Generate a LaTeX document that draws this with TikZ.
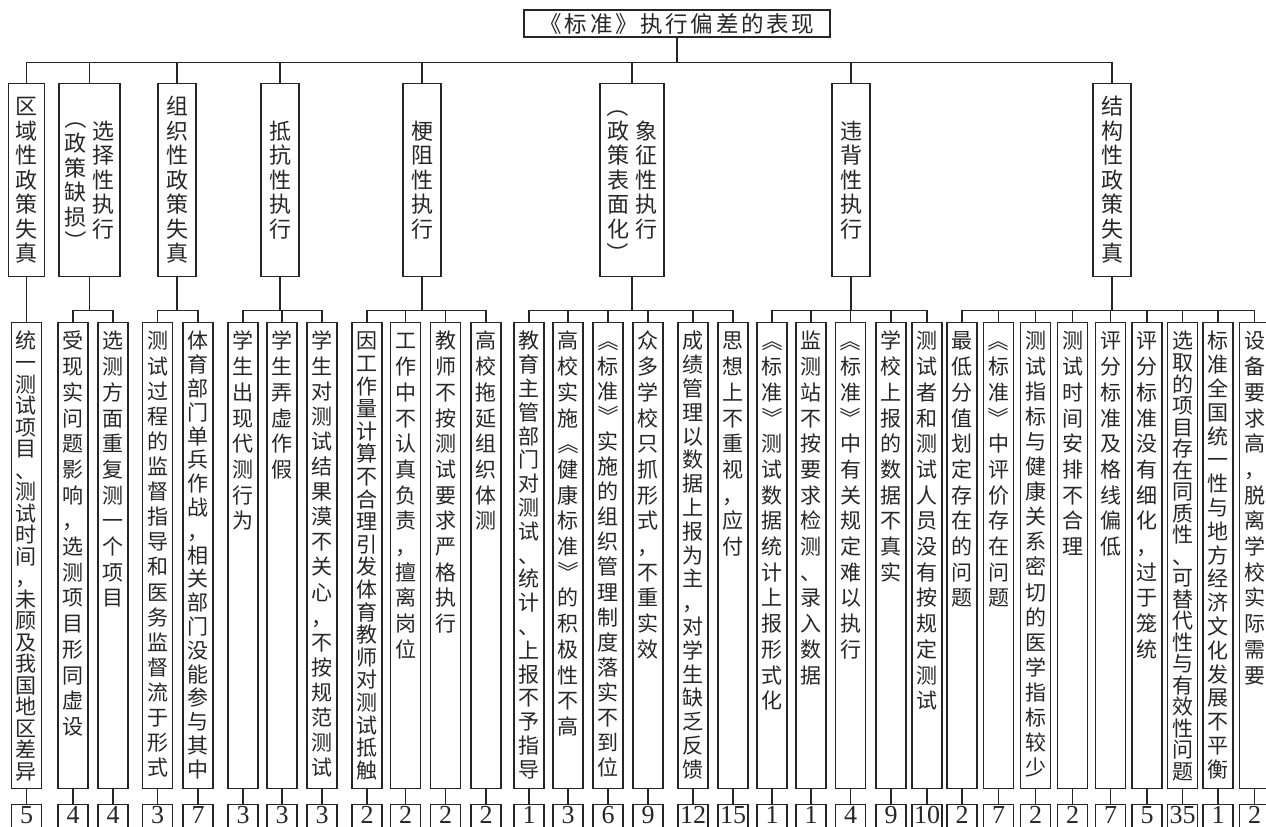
\documentclass[tikz,border=0pt]{standalone}
\usepackage{fontspec}
\usepackage{graphicx}
\setmainfont{Liberation Serif}
\newfontfamily\cjk{Noto Sans CJK SC}
\newfontfamily\cjktitle{Noto Sans CJK SC}[LetterSpace=12]
\usepackage{tikz}

% vertical columns of characters
\newcount\vcnt
\newdimen\vpitch
\newdimen\vspan
\newdimen\vmax
\def\vend{VEND}
\def\vcount#1{\ifx#1\vend\else\advance\vcnt by 1\relax\expandafter\vcount\fi}
\def\vput#1{\ifx#1\vend\else\hbox to 1em{\vrule height .88em depth .12em width 0pt\hss#1\hss}\expandafter\vput\fi}
\newcommand\vcol[1]{%
  \vcnt=0 \vcount#1\vend
  \vpitch=\vspan \divide\vpitch by \vcnt
  \ifdim\vpitch>\vmax \vpitch=\vmax\fi
  \vtop{\baselineskip=\vpitch\lineskiplimit=-\maxdimen\lineskip=0pt\vput#1\vend}}
% turned brackets for vertical text
\newcommand\vturn[1]{\rotatebox[origin=c]{-90}{\vrule height .88em depth .12em width 0pt#1}}
\newcommand\vopen{\vturn{《}}
\newcommand\vclose{\vturn{》}}
\newcommand\vparo{\vturn{（}}
\newcommand\vparc{\vturn{）}}

\tikzset{
  titlebox/.style={draw, inner sep=0pt, minimum width=306pt, minimum height=27pt,
    font=\cjktitle\fontsize{22.5}{24}\selectfont},
  kindbox/.style={draw, inner sep=0pt, minimum width=38pt, minimum height=193pt, anchor=north,
    font=\cjk\fontsize{22}{24}\selectfont, execute at begin node={\vspan=1000pt\vmax=24.5pt}},
  leafbox/.style={draw, inner sep=0pt, minimum width=30pt, text height=26.4pt, text depth=439.6pt,
    anchor=north, font=\cjk\fontsize{21}{25}\selectfont, execute at begin node={\vspan=452pt\vmax=25.7pt}},
  tallybox/.style={draw, inner sep=0pt, minimum width=30pt, text height=19pt, text depth=30pt,
    anchor=north, font=\fontsize{26}{26}\selectfont}
}

\begin{document}
\begin{tikzpicture}[x=1pt, y=-1pt, line width=1.1pt, color=black!85]
            \useasboundingbox (0,0) rectangle (1266,827);
            \clip (0,0) rectangle (1266,827);

            % Nodes
            \node[titlebox] (top) at (677,23.5) {《标准》执行偏差的表现};

            \node[kindbox, minimum width=36pt] (n1) at (26.5,83) {\vcol{区域性政策失真}};
            \node[kindbox, minimum width=61pt] (n2) at (89.5,83) {$\vcenter{\vcol{{\vparo}政策缺损{\vparc}}}\hskip6pt\vcenter{\vcol{选择性执行}}$};
            \node[kindbox] (n3) at (177,83) {\vcol{组织性政策失真}};
            \node[kindbox] (n4) at (280,83) {\vcol{抵抗性执行}};
            \node[kindbox] (n5) at (422,83) {\vcol{梗阻性执行}};
            \node[kindbox, minimum width=64pt] (n6) at (632,83) {$\vcenter{\vcol{{\vparo}政策表面化{\vparc}}}\hskip6pt\vcenter{\vcol{象征性执行}}$};
            \node[kindbox] (n7) at (851,83) {\vcol{违背性执行}};
            \node[kindbox] (n8) at (1112,83) {\vcol{结构性政策失真}};

            \node[leafbox] (m1) at (26.5,322) {\vcol{统一测试项目、测试时间，未顾及我国地区差异}};
            \node[leafbox] (m2) at (73,322) {\vcol{受现实问题影响，选测项目形同虚设}};
            \node[leafbox] (m3) at (113,322) {\vcol{选测方面重复测一个项目}};
            \node[leafbox] (m4) at (157.5,322) {\vcol{测试过程的监督指导和医务监督流于形式}};
            \node[leafbox] (m5) at (198,322) {\vcol{体育部门单兵作战，相关部门没能参与其中}};
            \node[leafbox] (m6) at (243,322) {\vcol{学生出现代测行为}};
            \node[leafbox] (m7) at (282,322) {\vcol{学生弄虚作假}};
            \node[leafbox] (m8) at (322,322) {\vcol{学生对测试结果漠不关心，不按规范测试}};
            \node[leafbox] (m9) at (367,322) {\vcol{因工作量计算不合理引发体育教师对测试抵触}};
            \node[leafbox] (m10) at (405.5,322) {\vcol{工作中不认真负责，擅离岗位}};
            \node[leafbox] (m11) at (445.5,322) {\vcol{教师不按测试要求严格执行}};
            \node[leafbox] (m12) at (486,322) {\vcol{高校拖延组织体测}};
            \node[leafbox] (m13) at (529,322) {\vcol{教育主管部门对测试、统计、上报不予指导}};
            \node[leafbox] (m14) at (568,322) {\vcol{高校实施{\vopen}健康标准{\vclose}的积极性不高}};
            \node[leafbox] (m15) at (608,322) {\vcol{{\vopen}标准{\vclose}实施的组织管理制度落实不到位}};
            \node[leafbox] (m16) at (648,322) {\vcol{众多学校只抓形式，不重实效}};
            \node[leafbox] (m17) at (693,322) {\vcol{成绩管理以数据上报为主，对学生缺乏反馈}};
            \node[leafbox] (m18) at (733,322) {\vcol{思想上不重视，应付}};
            \node[leafbox] (m19) at (772,322) {\vcol{{\vopen}标准{\vclose}测试数据统计上报形式化}};
            \node[leafbox] (m20) at (811,322) {\vcol{监测站不按要求检测、录入数据}};
            \node[leafbox] (m21) at (850.5,322) {\vcol{{\vopen}标准{\vclose}中有关规定难以执行}};
            \node[leafbox] (m22) at (891,322) {\vcol{学校上报的数据不真实}};
            \node[leafbox] (m23) at (927,322) {\vcol{测试者和测试人员没有按规定测试}};
            \node[leafbox] (m24) at (962,322) {\vcol{最低分值划定存在的问题}};
            \node[leafbox] (m25) at (998.5,322) {\vcol{{\vopen}标准{\vclose}中评价存在问题}};
            \node[leafbox] (m26) at (1035.5,322) {\vcol{测试指标与健康关系密切的医学指标较少}};
            \node[leafbox] (m27) at (1072.5,322) {\vcol{测试时间安排不合理}};
            \node[leafbox] (m28) at (1110.5,322) {\vcol{评分标准及格线偏低}};
            \node[leafbox] (m29) at (1147,322) {\vcol{评分标准没有细化，过于笼统}};
            \node[leafbox] (m30) at (1182.5,322) {\vcol{选取的项目存在同质性、可替代性与有效性问题}};
            \node[leafbox] (m31) at (1218,322) {\vcol{标准全国统一性与地方经济文化发展不平衡}};
            \node[leafbox] (m32) at (1254.5,322) {\vcol{设备要求高，脱离学校实际需要}};

            \node[tallybox] (v1) at (26.5,804) {5};
            \node[tallybox] (v2) at (73,804) {4};
            \node[tallybox] (v3) at (113,804) {4};
            \node[tallybox] (v4) at (157.5,804) {3};
            \node[tallybox] (v5) at (198,804) {7};
            \node[tallybox] (v6) at (243,804) {3};
            \node[tallybox] (v7) at (282,804) {3};
            \node[tallybox] (v8) at (322,804) {3};
            \node[tallybox] (v9) at (367,804) {2};
            \node[tallybox] (v10) at (405.5,804) {2};
            \node[tallybox] (v11) at (445.5,804) {2};
            \node[tallybox] (v12) at (486,804) {2};
            \node[tallybox] (v13) at (529,804) {1};
            \node[tallybox] (v14) at (568,804) {3};
            \node[tallybox] (v15) at (608,804) {6};
            \node[tallybox] (v16) at (648,804) {9};
            \node[tallybox] (v17) at (693,804) {12};
            \node[tallybox] (v18) at (733,804) {15};
            \node[tallybox] (v19) at (772,804) {1};
            \node[tallybox] (v20) at (811,804) {1};
            \node[tallybox] (v21) at (850.5,804) {4};
            \node[tallybox] (v22) at (891,804) {9};
            \node[tallybox] (v23) at (927,804) {10};
            \node[tallybox] (v24) at (962,804) {2};
            \node[tallybox] (v25) at (998.5,804) {7};
            \node[tallybox] (v26) at (1035.5,804) {2};
            \node[tallybox] (v27) at (1072.5,804) {2};
            \node[tallybox] (v28) at (1110.5,804) {7};
            \node[tallybox] (v29) at (1147,804) {5};
            \node[tallybox] (v30) at (1182.5,804) {35};
            \node[tallybox] (v31) at (1218,804) {1};
            \node[tallybox] (v32) at (1254.5,804) {2};

            % Edges
            \draw (top.south) -- ++(0,25) -| (n1.north);
            \draw (top.south) -- ++(0,25) -| (n2.north);
            \draw (top.south) -- ++(0,25) -| (n3.north);
            \draw (top.south) -- ++(0,25) -| (n4.north);
            \draw (top.south) -- ++(0,25) -| (n5.north);
            \draw (top.south) -- ++(0,25) -| (n6.north);
            \draw (top.south) -- ++(0,25) -| (n7.north);
            \draw (top.south) -- ++(0,25) -| (n8.north);

            \draw (n1.south) -- (m1.north);
            \draw (n2.south) -- ++(0,33) -| (m2.north);
            \draw (n2.south) -- ++(0,33) -| (m3.north);
            \draw (n3.south) -- ++(0,33) -| (m4.north);
            \draw (n3.south) -- ++(0,33) -| (m5.north);
            \draw (n4.south) -- ++(0,33) -| (m6.north);
            \draw (n4.south) -- ++(0,33) -| (m7.north);
            \draw (n4.south) -- ++(0,33) -| (m8.north);
            \draw (n5.south) -- ++(0,33) -| (m9.north);
            \draw (n5.south) -- ++(0,33) -| (m10.north);
            \draw (n5.south) -- ++(0,33) -| (m11.north);
            \draw (n5.south) -- ++(0,33) -| (m12.north);
            \draw (n6.south) -- ++(0,33) -| (m13.north);
            \draw (n6.south) -- ++(0,33) -| (m14.north);
            \draw (n6.south) -- ++(0,33) -| (m15.north);
            \draw (n6.south) -- ++(0,33) -| (m16.north);
            \draw (n6.south) -- ++(0,33) -| (m17.north);
            \draw (n6.south) -- ++(0,33) -| (m18.north);
            \draw (n7.south) -- ++(0,33) -| (m19.north);
            \draw (n7.south) -- ++(0,33) -| (m20.north);
            \draw (n7.south) -- ++(0,33) -| (m21.north);
            \draw (n7.south) -- ++(0,33) -| (m22.north);
            \draw (n7.south) -- ++(0,33) -| (m23.north);
            \draw (n8.south) -- ++(0,33) -| (m24.north);
            \draw (n8.south) -- ++(0,33) -| (m25.north);
            \draw (n8.south) -- ++(0,33) -| (m26.north);
            \draw (n8.south) -- ++(0,33) -| (m27.north);
            \draw (n8.south) -- ++(0,33) -| (m28.north);
            \draw (n8.south) -- ++(0,33) -| (m29.north);
            \draw (n8.south) -- ++(0,33) -| (m30.north);
            \draw (n8.south) -- ++(0,33) -| (m31.north);
            \draw (n8.south) -- ++(0,33) -| (m32.north);

            \draw (m1.south) -- (v1.north);
            \draw (m2.south) -- (v2.north);
            \draw (m3.south) -- (v3.north);
            \draw (m4.south) -- (v4.north);
            \draw (m5.south) -- (v5.north);
            \draw (m6.south) -- (v6.north);
            \draw (m7.south) -- (v7.north);
            \draw (m8.south) -- (v8.north);
            \draw (m9.south) -- (v9.north);
            \draw (m10.south) -- (v10.north);
            \draw (m11.south) -- (v11.north);
            \draw (m12.south) -- (v12.north);
            \draw (m13.south) -- (v13.north);
            \draw (m14.south) -- (v14.north);
            \draw (m15.south) -- (v15.north);
            \draw (m16.south) -- (v16.north);
            \draw (m17.south) -- (v17.north);
            \draw (m18.south) -- (v18.north);
            \draw (m19.south) -- (v19.north);
            \draw (m20.south) -- (v20.north);
            \draw (m21.south) -- (v21.north);
            \draw (m22.south) -- (v22.north);
            \draw (m23.south) -- (v23.north);
            \draw (m24.south) -- (v24.north);
            \draw (m25.south) -- (v25.north);
            \draw (m26.south) -- (v26.north);
            \draw (m27.south) -- (v27.north);
            \draw (m28.south) -- (v28.north);
            \draw (m29.south) -- (v29.north);
            \draw (m30.south) -- (v30.north);
            \draw (m31.south) -- (v31.north);
            \draw (m32.south) -- (v32.north);
\end{tikzpicture}
\end{document}
